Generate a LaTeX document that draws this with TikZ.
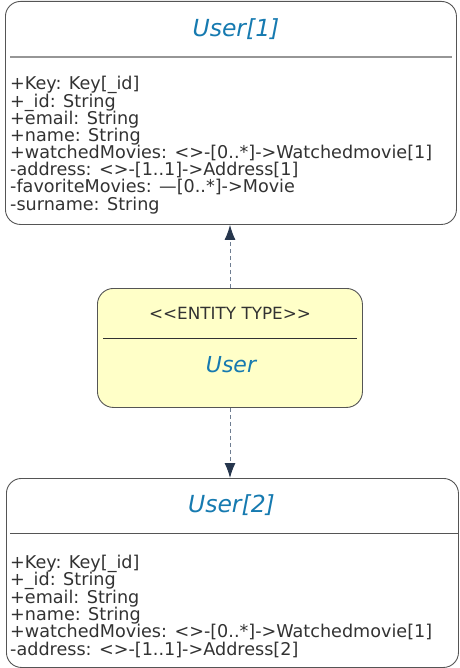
\documentclass[tikz,border=0pt]{standalone}
\usepackage{fontspec}
\setmainfont{DejaVu Sans}
\usetikzlibrary{arrows.meta}
\definecolor{titleblue}{RGB}{22,122,176}
\definecolor{boxborder}{RGB}{85,85,85}
\definecolor{sepgray}{RGB}{150,150,150}
\definecolor{entfill}{RGB}{255,255,200}
\definecolor{arrowc}{RGB}{110,125,145}
\definecolor{headc}{RGB}{38,54,77}
\definecolor{txt}{RGB}{50,50,50}
\begin{document}
\begin{tikzpicture}[x=1pt,y=-1pt,
  umlbox/.style={draw=boxborder,line width=0.9pt,rounded corners=15pt},
  titletxt/.style={font=\fontsize{23.5}{26}\selectfont\itshape,text=titleblue,inner sep=0pt,anchor=base},
  attr/.style={font=\fontsize{17.6}{20}\selectfont,text=txt,anchor=base west,inner sep=0pt},
  dep/.style={draw=arrowc,dashed,dash pattern=on 4pt off 3pt,line width=1pt,-{Latex[length=15pt,width=11pt,color=headc]}}]
\useasboundingbox (0,0) rectangle (459,668);
% Box 1
\node[umlbox,minimum width=451pt,minimum height=223pt,anchor=north west] (u1) at (5,1) {};
\node[titletxt] (u1t) at (236,37) {User[1]};
\draw[sepgray,line width=1.2pt] (10,57) -- (452,57);
\foreach \t [count=\i] in {+Key: Key[\_id],+\_id: String,+email: String,+name: String,+watchedMovies: <>-[0..*]->Watchedmovie[1],-address: <>-[1..1]->Address[1],-favoriteMovies: —[0..*]->Movie,-surname: String}
  \node[attr] (u1a\i) at (10,{90+(\i-1)*17.15}) {\t};
% Entity
\node[umlbox,fill=entfill,rounded corners=16pt,minimum width=265pt,minimum height=119pt,anchor=north west] (ent) at (97,288) {};
\node[font=\fontsize{16.8}{19}\selectfont,text=txt,inner sep=0pt,anchor=base] (entst) at (230,319) {<{}<ENTITY TYPE>{}>};
\draw[txt,line width=0.7pt] (103,338) -- (357,338);
\node[font=\fontsize{22}{25}\selectfont\itshape,text=titleblue,inner sep=0pt,anchor=base] (entn) at (231,372.5) {User};
% Box 2
\node[umlbox,minimum width=452pt,minimum height=189pt,anchor=north west] (u2) at (6,478) {};
\node[titletxt] (u2t) at (231.5,512.7) {User[2]};
\draw[boxborder,line width=0.9pt] (10,533.5) -- (458,533.5);
\foreach \t [count=\i] in {+Key: Key[\_id],+\_id: String,+email: String,+name: String,+watchedMovies: <>-[0..*]->Watchedmovie[1],-address: <>-[1..1]->Address[2]}
  \node[attr] (u2a\i) at (10,{568.3+(\i-1)*17.35}) {\t};
% Connectors
\draw[dep] (ent.north -| 230,0) -- (u1.south -| 230,0);
\draw[dep] (ent.south -| 230,0) -- (u2.north -| 230,0);
\end{tikzpicture}
\end{document}
